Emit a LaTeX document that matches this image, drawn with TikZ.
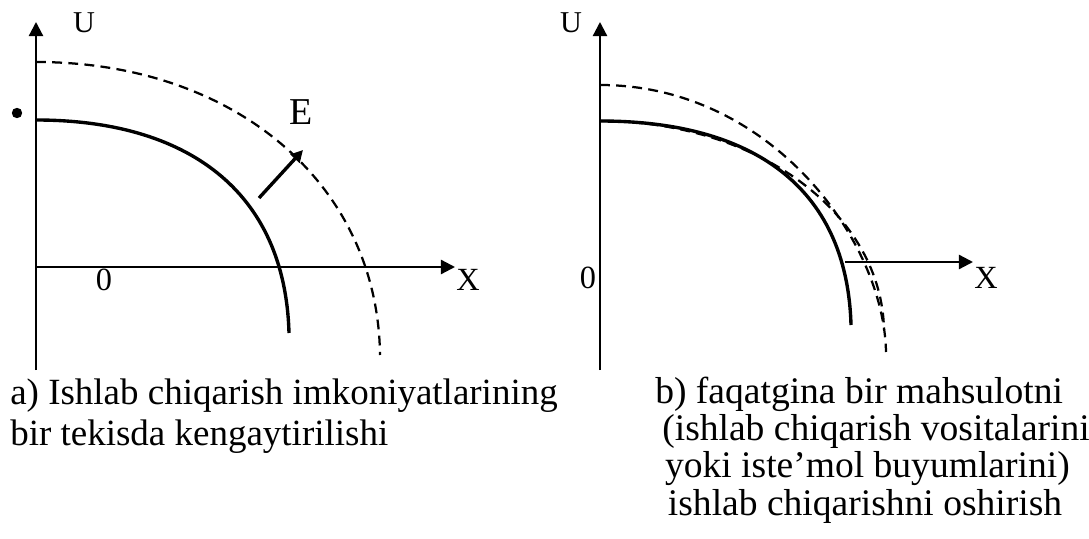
\documentclass[tikz,border=0pt]{standalone}
\usepackage{fontspec}
\setmainfont{Liberation Serif}
\usetikzlibrary{arrows.meta}

\tikzset{
  axis/.style={line width=1.6pt, -{Triangle[length=10pt,width=10pt]}},
  ppf/.style={line width=2.4pt},
  ppfnew/.style={line width=1.6pt, dash pattern=on 7pt off 4.5pt},
  shift arrow/.style={line width=2.4pt, -{Triangle[length=8.5pt,width=8.5pt]}},
  lbl/.style={font=\fontsize{23}{25}\selectfont, inner sep=0pt, anchor=base},
  caption/.style={inner sep=0pt, align=left, anchor=base west},
  dotmark/.style={circle, fill, inner sep=0pt, minimum size=7.4pt}
}

\begin{document}
\begin{tikzpicture}[x=0.025cm,y=-0.025cm]
\useasboundingbox (0,0) rectangle (1089,538);

% a) even expansion
\coordinate (aO) at (36,267);
\coordinate (aTop) at (36,22);
\coordinate (aBot) at (36,370);
\coordinate (aEnd) at (455,267);
\draw[axis] (aBot) -- (aTop);
\draw[axis] (aO) -- (aEnd);
\node[lbl, font=\fontsize{21.5}{23}\selectfont] (aU) at (84,33) {U};
\node[lbl] (aX) at (468,290) {X};
\node[lbl] (aZero) at (104,290) {0};
\node[dotmark] (aDot) at (17,113) {};
\draw[ppf] (36,120) .. controls (186,120) and (285,190) .. (289,333);
\draw[ppfnew] (36,62) .. controls (236,62) and (378,185) .. (380,355);
\coordinate (eFrom) at (259,198);
\coordinate (eTo) at (303,150);
\draw[shift arrow] (eFrom) -- (eTo);
\node[lbl, font=\fontsize{27}{29}\selectfont] (aE) at (301,125) {E};

% b) one good only
\coordinate (bTop) at (600,22);
\coordinate (bBot) at (600,370);
\coordinate (bCut) at (845,262);
\coordinate (bEnd) at (973,262);
\draw[axis] (bBot) -- (bTop);
\draw[axis] (bCut) -- (bEnd);
\node[lbl, font=\fontsize{21.5}{23}\selectfont] (bU) at (571,33) {U};
\node[lbl] (bX) at (986,288) {X};
\node[lbl] (bZero) at (588,288) {0};
\draw[ppf] (600,121) .. controls (750,121) and (847,185) .. (851,325);
\draw[ppfnew] (600,121) .. controls (760,121) and (882,215) .. (884,330);
\draw[ppfnew] (600,85) .. controls (770,85) and (884,240) .. (886,352);

% captions (base = last line)
\node[caption, font=\fontsize{26.3}{28.5}\selectfont] (capA) at (10,445)
  {a) Ishlab chiqarish imkoniyatlarining\\bir tekisda kengaytirilishi};
\node[caption, font=\fontsize{26.7}{26.5}\selectfont] (capB) at (655,515)
  {b) faqatgina bir mahsulotni\\
   \hspace{5pt}(ishlab chiqarish vositalarini\\
   \hspace{7pt}yoki iste’mol buyumlarini)\\
   \hspace{9pt}ishlab chiqarishni oshirish};
\end{tikzpicture}
\end{document}
